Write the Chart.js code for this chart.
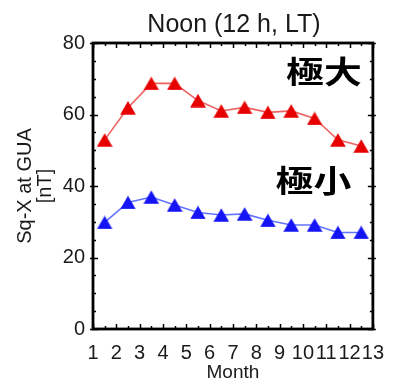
<!DOCTYPE html>
<html>
<head>
<meta charset="utf-8">
<script src="https://cdn.jsdelivr.net/npm/chart.js@4"></script>
<style>
  html, body { margin: 0; padding: 0; background: #fff; }
  canvas { display: block; }
</style>
</head>
<body>
<canvas id="c" width="396" height="379"></canvas>
<script>
// Monthly Sq-X at GUA, noon local time (values placed mid-month)
const months = [1.5, 2.5, 3.5, 4.5, 5.5, 6.5, 7.5, 8.5, 9.5, 10.5, 11.5, 12.5];
const solarMax = [52.9, 61.9, 68.7, 68.7, 63.9, 61.0, 62.0, 60.6, 61.0, 58.9, 52.9, 51.2];
const solarMin = [29.8, 35.4, 36.9, 34.7, 32.6, 31.9, 32.2, 30.4, 29.1, 29.1, 27.0, 27.0];
const xTickValues = [1, 2, 3, 4, 5, 6, 7, 8, 9, 10, 11, 12, 13];
const yTickValues = [0, 20, 40, 60, 80];

const FONT = '"Liberation Sans", Arial, sans-serif';

// Filled triangle marker, centred on the data point
function triangle(color) {
  const c = document.createElement('canvas');
  c.width = 16; c.height = 14;
  const g = c.getContext('2d');
  g.fillStyle = color;
  g.beginPath();
  g.moveTo(8, 0.3);
  g.lineTo(15.8, 13.7);
  g.lineTo(0.2, 13.7);
  g.closePath();
  g.fill();
  return c;
}

const toPoints = (xs, ys) => xs.map((x, i) => ({ x, y: ys[i] }));

// Boxed frame with inward ticks on all four sides, plus title and labels
const framePlugin = {
  id: 'frame',
  afterDatasetsDraw(chart) {
    const { ctx, chartArea: a, scales: { x, y } } = chart;
    ctx.save();
    ctx.strokeStyle = '#000';
    ctx.lineWidth = 1.5;
    ctx.beginPath();
    xTickValues.forEach(v => {
      const px = Math.round(x.getPixelForValue(v)) + 0.5;
      ctx.moveTo(px, a.bottom); ctx.lineTo(px, a.bottom - 5);
      ctx.moveTo(px, a.top); ctx.lineTo(px, a.top + 5);
      if (v < xTickValues[xTickValues.length - 1]) {
        const pm = Math.round(x.getPixelForValue(v + 0.5)) + 0.5;
        ctx.moveTo(pm, a.bottom); ctx.lineTo(pm, a.bottom - 3);
        ctx.moveTo(pm, a.top); ctx.lineTo(pm, a.top + 3);
      }
    });
    for (let v = 0; v <= 80; v += 5) {
      const py = Math.round(y.getPixelForValue(v)) + 0.5;
      const major = yTickValues.includes(v);
      const len = major ? 5 : 3;
      ctx.moveTo(a.left - (major ? 3 : 0), py); ctx.lineTo(a.left + len, py);
      ctx.moveTo(a.right + (major ? 3 : 0), py); ctx.lineTo(a.right - len, py);
    }
    ctx.stroke();
    ctx.lineWidth = 2.8;
    ctx.strokeRect(a.left, a.top, a.right - a.left, a.bottom - a.top);

    // chart title
    ctx.fillStyle = '#1a1a1a';
    ctx.font = '25px ' + FONT;
    ctx.textAlign = 'center';
    ctx.textBaseline = 'alphabetic';
    ctx.fillText('Noon (12 h, LT)', (a.left + a.right) / 2 + 1, 32);

    // series labels
    ctx.fillStyle = '#000';
    ctx.font = 'bold 31px "Noto Sans CJK JP", "Noto Sans CJK SC", sans-serif';
    ctx.textBaseline = 'middle';
    const tag = (text, xv, yv) => {
      ctx.save();
      ctx.translate(x.getPixelForValue(xv), y.getPixelForValue(yv));
      ctx.scale(1.22, 1);
      ctx.fillText(text, 0, 0);
      ctx.restore();
    };
    tag('極大', 10.9, 72.2);
    tag('極小', 10.45, 41.6);
    ctx.restore();
  }
};

new Chart(document.getElementById('c'), {
  type: 'line',
  data: {
    datasets: [
      {
        label: '極大',
        data: toPoints(months, solarMax),
        borderColor: 'rgba(235, 70, 70, 0.85)',
        borderWidth: 1.6,
        pointStyle: triangle('#e60000'),
        pointRadius: 8,
        tension: 0
      },
      {
        label: '極小',
        data: toPoints(months, solarMin),
        borderColor: 'rgba(70, 90, 255, 0.85)',
        borderWidth: 1.6,
        pointStyle: triangle('#1414f5'),
        pointRadius: 8,
        tension: 0
      }
    ]
  },
  options: {
    responsive: false,
    animation: false,
    devicePixelRatio: 1,
    layout: { padding: { top: 43, right: 13, left: 0, bottom: 0 } },
    plugins: { legend: { display: false }, tooltip: { enabled: false }, title: { display: false } },
    scales: {
      x: {
        type: 'linear',
        min: 1, max: 13,
        afterBuildTicks: s => { s.ticks = xTickValues.map(v => ({ value: v })); },
        afterFit: s => { s.height = 50; },
        grid: { display: false, drawTicks: false },
        border: { display: false },
        ticks: {
          autoSkip: false, maxRotation: 0, padding: 12,
          color: '#1a1a1a', font: { family: FONT, size: 20 }
        },
        title: {
          display: true, text: 'Month', color: '#1a1a1a',
          font: { family: FONT, size: 19, lineHeight: 0.7 },
          padding: { top: 0, bottom: 0 }
        }
      },
      y: {
        type: 'linear',
        min: 0, max: 80,
        afterBuildTicks: s => { s.ticks = yTickValues.map(v => ({ value: v })); },
        afterFit: s => { s.width = 93; },
        grid: { display: false, drawTicks: false },
        border: { display: false },
        ticks: { padding: 8, color: '#1a1a1a', font: { family: FONT, size: 20 } },
        title: {
          display: true, text: ['Sq-X at GUA', '[nT]'], color: '#1a1a1a',
          font: { family: FONT, size: 20, lineHeight: 1.0 },
          padding: { top: 15, bottom: 0 }
        }
      }
    }
  },
  plugins: [framePlugin]
});
</script>
</body>
</html>
